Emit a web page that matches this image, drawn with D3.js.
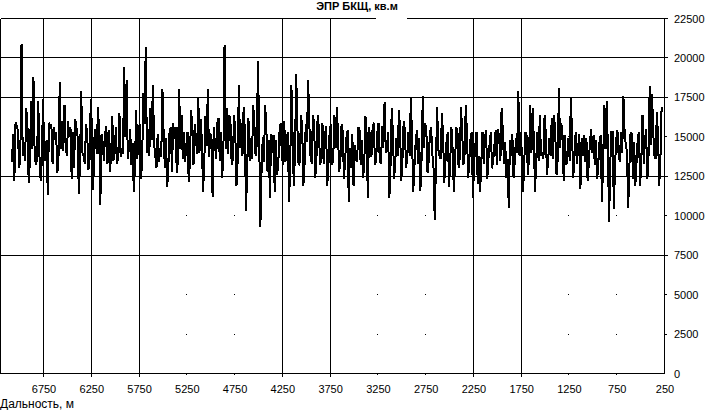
<!DOCTYPE html>
<html>
<head>
<meta charset="utf-8">
<script src="https://cdn.jsdelivr.net/npm/d3@7"></script>
<style>
  html, body { margin: 0; padding: 0; background: #fff; }
  svg { display: block; }
  text { font-family: "Liberation Sans", Arial, sans-serif; fill: #000; }
</style>
</head>
<body>
<script>
// ---- data ----
const chartTitle = "ЭПР БКЩ, кв.м";
const xAxisTitle = "Дальность, м";
const distStart = 7080;   // first sample, m
const distStep = 25;      // spacing of the main samples, m
// main samples (peaks / troughs)
const rcsValues = [
  13400,12200,15700,13000,20900,14500,16800,12100,17300,18800,
  13200,17300,12200,17400,13500,11300,15500,13300,14800,12700,
  18500,16000,17000,13800,15000,12300,13000,15600,11400,17900,
  13800,15800,12900,17400,11600,15500,16900,10700,14600,15200,
  13300,12800,16300,14000,13300,16500,14300,19400,18600,14300,
  13200,11500,16700,15500,12300,17800,20700,15500,16800,18300,
  13800,15200,14300,18000,13000,11800,15400,12800,
  14900,12700,18060,16400,15300,14500,12150,16700,13200,15000,
  17500,16100,11500,16300,18000,14900,11200,14500,15900,13500,
  12400,20850,16800,16400,13200,16400,11900,18270,15900,16900,
  10300,16200,14900,17000,13800,19800,9300,15000,17000,12800,
  11100,14000,11500,12600,15300,13800,16000,14900,10900,18270,
  11900,19000,13200,16400,11900,15800,18600,13800,16400,12400,
  16400,13200,15900,14900,11900,15300,13200,16400,
  16900,12800,15800,12300,14900,10900,13000,11900,13600,15600,
  13200,12400,16300,11100,14900,15600,13200,15300,13400,15700,
  17200,14400,11100,16800,12300,14900,16700,12200,16000,13000,
  15300,17500,11500,14600,13300,11600,17600,15900,12700,15300,
  13900,9700,16900,13800,16500,12100,14900,11800,15600,11500,
  15600,13000,16900,13200,17000,12400,14900,11100,14500,12000,
  11500,15300,14900,12300,14600,13000,14500,
  13200,14900,16800,13300,12400,10500,13800,12400,14900,17900,
  15300,11500,15300,12600,17000,16800,11500,15300,16400,14000,
  16400,12600,14900,16200,16400,12600,18100,15900,12200,13200,
  14900,17500,12400,15300,14200,11700,13800,13400,12200,14700,
  14000,13200,12300,14700,10900,17000,17300,9600,15300,10400,
  14900,13800,15300,17600,14500,10500,15300,12300,11900,14900,
  11900,16400,14700,12300,18200,17700,13800,16600,11900,16900
];
// samples half a step after each main sample (the dense black core)
const rcsValuesBetween = [
  15200,15900,15400,13600,13800,13500,15600,13400,14200,13900,
  13600,13800,13500,14000,14800,15900,15800,15600,15300,13800,
  14200,14100,14300,16000,15600,15300,16100,15000,13300,14000,
  13300,15200,13600,15400,14900,13900,15300,15200,13500,15700,
  15400,13700,13500,15600,13800,13700,13900,15000,13600,15500,
  14600,13100,13600,15800,13400,15800,14000,13800,14800,14600,
  13000,13400,13700,15200,14900,13200,15600,15900,
  15600,13500,14200,13600,13400,15300,13400,15600,15800,13900,
  14000,14800,13300,14400,13700,15200,15600,13600,16200,15300,
  13800,14200,13900,15800,13600,15200,13500,14300,13800,15400,
  13200,13500,13600,15800,14500,15000,12800,13400,15600,14800,
  15200,15100,14800,13300,15900,13200,13400,15300,13200,15000,
  14000,15600,13400,15700,13300,14700,15800,13300,15900,13700,
  15500,13600,13300,15700,13200,15800,13500,14300,
  15200,13500,15300,13600,15400,14300,15200,14500,13400,15500,
  14800,13300,15200,15600,13700,15900,13600,15900,13300,14300,
  14000,15300,13200,15200,13500,13800,15400,13600,15500,13700,
  13800,15000,13100,15400,14900,13600,14300,15400,13500,15600,
  13000,13200,14200,13600,15000,13400,15300,13500,14200,13300,
  15400,13700,15300,13900,15200,13500,15300,13400,15300,13800,
  13400,13300,15400,13600,15300,13500,15400,
  15500,13500,15400,14700,13600,14800,15200,13400,14000,13800,
  13900,13500,15100,13800,14000,14800,13600,13500,13800,13600,
  15200,13500,13800,13600,15000,13600,14300,15100,15100,13400,
  13500,15100,13700,13300,15200,14900,15100,14900,13300,15500,
  15100,14800,13300,15100,13300,14200,14200,13300,15300,13200,
  15400,13400,14000,15300,14000,13100,15200,14700,13400,15300,
  13500,13300,15500,13700,14500,15200,13600,15000,13700
];
const xTickValues = [6750,6250,5750,5250,4750,4250,3750,3250,2750,2250,1750,1250,750,250];
const yTickValues = [0,2500,5000,7500,10000,12500,15000,17500,20000,22500];
const xGridShown = [6750,6250,5750,4250,3750,2250,1750];
const yGridShown = [20000,17500,12500,7500];

// ---- layout ----
const W = 706, H = 410;
const plot = { left: 0.5, right: 664.5, top: 18.5, bottom: 373.5 };

const svg = d3.select("body").append("svg").attr("width", W).attr("height", H);

const x = d3.scaleLinear().domain([7200, 250]).range([plot.left, plot.right]);
const y = d3.scaleLinear().domain([0, 22500]).range([plot.bottom, plot.top]);
const px = v => Math.round(x(v) - 0.5) + 0.5;
const py = v => Math.round(y(v) - 0.5) + 0.5;

const data = [];
rcsValues.forEach((v, i) => {
  const d = distStart - i * distStep;
  data.push({ d, v });
  if (i < rcsValuesBetween.length) data.push({ d: d - distStep / 2, v: rcsValuesBetween[i] });
});

// grid lines (drawn ones)
const grid = svg.append("g").attr("shape-rendering", "crispEdges").attr("stroke", "#000").attr("stroke-width", 1);
grid.selectAll(".gx").data(xGridShown).join("line")
  .attr("x1", d => px(d)).attr("x2", d => px(d))
  .attr("y1", plot.top).attr("y2", plot.bottom + 3);
grid.selectAll(".gy").data(yGridShown).join("line")
  .attr("x1", plot.left).attr("x2", plot.right + 3)
  .attr("y1", d => py(d)).attr("y2", d => py(d));

// hidden grid lines leave only dots at their crossings and tick dots
const xHidden = xTickValues.filter(v => !xGridShown.includes(v) && v !== 250);
const yHidden = yTickValues.filter(v => !yGridShown.includes(v) && v !== 0 && v !== 22500);
const dots = [];
xHidden.forEach(a => yHidden.forEach(b => dots.push([a, b])));
svg.append("g").selectAll("rect").data(dots).join("rect")
  .attr("x", d => px(d[0]) - 0.5).attr("y", d => py(d[1]) - 0.5)
  .attr("width", 1).attr("height", 1).attr("fill", "#000");
svg.append("g").selectAll("rect").data(xHidden).join("rect")
  .attr("x", d => px(d) - 0.5).attr("y", plot.bottom + 0.5)
  .attr("width", 1).attr("height", 1).attr("fill", "#000");
svg.append("g").selectAll("rect").data(yHidden).join("rect")
  .attr("x", plot.right + 0.5).attr("y", d => py(d) - 0.5)
  .attr("width", 2).attr("height", 1).attr("fill", "#000");

// data line
const line = d3.line().x(d => x(d.d)).y(d => y(d.v));
svg.append("path").datum(data)
  .attr("d", line)
  .attr("fill", "none").attr("stroke", "#000").attr("stroke-width", 2)
  .attr("stroke-linejoin", "miter").attr("stroke-miterlimit", 1.5)
  .attr("shape-rendering", "crispEdges");

// frame (top border interrupted near the title)
const frame = svg.append("g").attr("shape-rendering", "crispEdges").attr("stroke", "#000").attr("stroke-width", 1);
frame.append("line").attr("x1", plot.left).attr("x2", plot.left).attr("y1", plot.top).attr("y2", plot.bottom);
frame.append("line").attr("x1", plot.right).attr("x2", plot.right).attr("y1", plot.top).attr("y2", plot.bottom);
frame.append("line").attr("x1", plot.left).attr("x2", plot.right).attr("y1", plot.bottom).attr("y2", plot.bottom);
frame.append("line").attr("x1", plot.left).attr("x2", 376).attr("y1", plot.top).attr("y2", plot.top);
frame.append("line").attr("x1", 407).attr("x2", plot.right + 3).attr("y1", plot.top).attr("y2", plot.top);

// axes
const xAxis = d3.axisBottom(x).tickValues(xTickValues).tickSize(0).tickPadding(0).tickFormat(d3.format("d"));
const gx = svg.append("g").attr("transform", `translate(0,${plot.bottom})`).call(xAxis);
gx.select(".domain").remove();
gx.selectAll("text").attr("font-size", 11).attr("dy", null).attr("y", 19.5)
  .style("font-family", "'Liberation Sans', Arial, sans-serif");

const yAxis = d3.axisRight(y).tickValues(yTickValues).tickSize(0).tickPadding(0).tickFormat(d3.format("d"));
const gy = svg.append("g").attr("transform", `translate(${plot.right},0)`).call(yAxis);
gy.select(".domain").remove();
gy.selectAll("text").attr("font-size", 11).attr("x", 9.5)
  .style("font-family", "'Liberation Sans', Arial, sans-serif");

// titles
svg.append("text").attr("x", 357).attr("y", 10).attr("text-anchor", "middle")
  .attr("font-size", 11).attr("font-weight", "bold").text(chartTitle);
svg.append("text").attr("x", 0).attr("y", 408).attr("font-size", 12).text(xAxisTitle);
</script>
</body>
</html>
